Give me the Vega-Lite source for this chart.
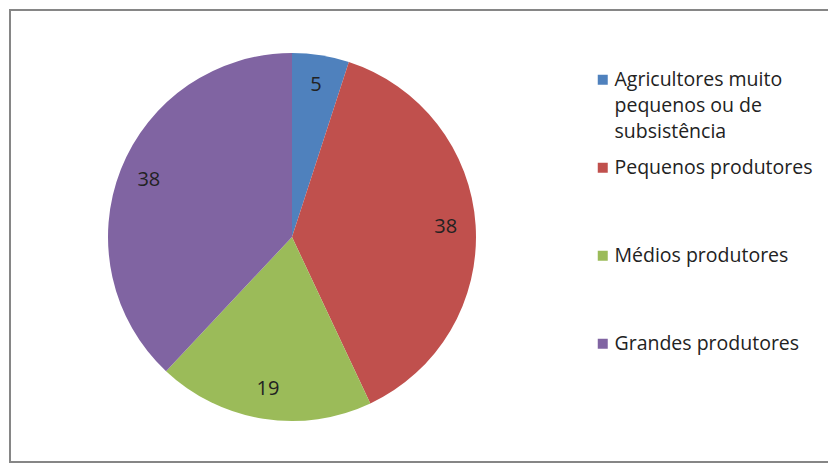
{
  "$schema": "https://vega.github.io/schema/vega-lite/v6.json",
  "width": 822,
  "height": 452,
  "autosize": "none",
  "padding": {"left": 10, "top": 10, "right": 0, "bottom": 2},
  "background": "white",
  "config": {"view": {"stroke": null}, "font": "Open Sans"},
  "layer": [
    {
      "data": {"values": [{"quadro": 1}]},
      "mark": {"type": "rect", "fill": null, "stroke": "#868686", "strokeWidth": 2},
      "encoding": {}
    },
    {
      "data": {
        "values": [
          {"categoria": "Agricultores muito pequenos ou de subsistência", "valor": 5, "ordem": 1},
          {"categoria": "Pequenos produtores", "valor": 38, "ordem": 2},
          {"categoria": "Médios produtores", "valor": 19, "ordem": 3},
          {"categoria": "Grandes produtores", "valor": 38, "ordem": 4}
        ]
      },
      "encoding": {
        "theta": {"field": "valor", "type": "quantitative", "stack": true},
        "order": {"field": "ordem", "type": "quantitative"}
      },
      "layer": [
        {
          "mark": {"type": "arc", "outerRadius": 184, "x": 282, "y": 227},
          "encoding": {
            "color": {
              "field": "categoria",
              "type": "nominal",
              "sort": null,
              "scale": {
                "domain": ["Agricultores muito pequenos ou de subsistência", "Pequenos produtores", "Médios produtores", "Grandes produtores"],
                "range": ["#4F81BD", "#C0504D", "#9BBB59", "#8064A2"]
              },
              "legend": {
                "orient": "none",
                "legendX": 583,
                "legendY": 60,
                "title": null,
                "symbolType": "square",
                "symbolSize": 100,
                "symbolStrokeWidth": 0,
                "labelFontSize": 19.5,
                "labelColor": "#222",
                "labelOffset": 2,
                "labelLimit": 400,
                "gridAlign": "all",
                "rowPadding": 15,
                "labelExpr": "datum.label == 'Agricultores muito pequenos ou de subsistência' ? ['Agricultores muito', 'pequenos ou de', 'subsistência'] : datum.label",
                "encode": {"labels": {"update": {"lineHeight": {"value": 26}}}}
              }
            }
          }
        },
        {
          "mark": {"type": "text", "radius": 154, "fontSize": 20, "color": "#222", "x": 282, "y": 227},
          "encoding": {"text": {"field": "valor", "type": "quantitative"}}
        }
      ]
    }
  ]
}
